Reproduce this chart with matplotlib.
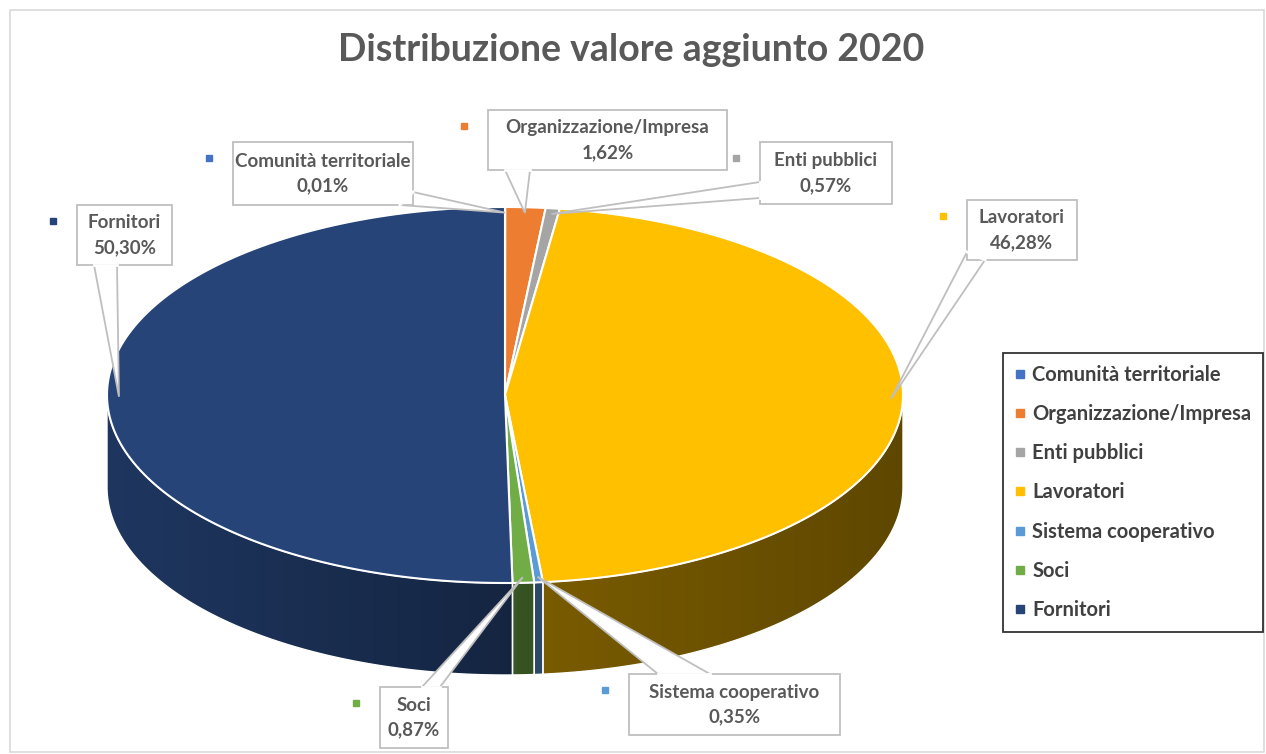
import numpy as np
import matplotlib
matplotlib.use("Agg")
import matplotlib.pyplot as plt
from matplotlib.patches import Polygon, Rectangle
from matplotlib.lines import Line2D

plt.rcParams['font.family'] = ['Lato', 'DejaVu Sans']

# data
categories = ["Comunità territoriale", "Organizzazione/Impresa", "Enti pubblici",
              "Lavoratori", "Sistema cooperativo", "Soci", "Fornitori"]
shares = [0.01, 1.62, 0.57, 46.28, 0.35, 0.87, 50.30]
value_labels = ["0,01%", "1,62%", "0,57%", "46,28%", "0,35%", "0,87%", "50,30%"]

# styles
colors = ["#4472C4", "#ED7D31", "#A5A5A5", "#FFC000", "#5B9BD5", "#70AD47", "#264478"]
text_col = "#595959"

# pie geometry in pixel units (y grows downwards)
cx, cy, rx, ry, depth = 505, 395, 398, 188, 92

# callout layout: box (x0, y0, x1, y1), pointer base points
callouts = {
    "Comunità territoriale": ((233, 142, 413, 205), [(400, 205), (413, 192)]),
    "Organizzazione/Impresa": ((488, 110, 727, 170), [(505, 170), (530, 170)]),
    "Enti pubblici": ((760, 142, 892, 204), [(760, 182), (760, 198)]),
    "Lavoratori": ((967, 200, 1077, 260), [(967, 252), (985, 260)]),
    "Sistema cooperativo": ((629, 674, 840, 735), [(710, 674), (658, 674)]),
    "Soci": ((380, 687, 448, 748), [(440, 687), (422, 687)]),
    "Fornitori": ((77, 205, 172, 265), [(94, 265), (117, 265)]),
}


def pt(theta, r=1.0, dy=0.0):
    th = np.radians(theta)
    return cx + r * rx * np.sin(th), cy - r * ry * np.cos(th) + dy


fig = plt.figure(figsize=(12.66, 7.54), dpi=100)
ax = fig.add_axes([0, 0, 1, 1])
ax.set_xlim(0, 1266)
ax.set_ylim(754, 0)
ax.axis("off")

ax.add_patch(Rectangle((10, 10), 1254, 742, facecolor="white", edgecolor="#D9D9D9", lw=1.2, zorder=0))

ax.text(631, 50, "Distribuzione valore aggiunto 2020", ha="center", va="center",
        fontsize=27, fontweight="bold", color=text_col)

bounds = np.concatenate([[0], np.cumsum(shares)]) / sum(shares) * 360

# side walls (front half only) with horizontal shading
gx = np.linspace(cx - rx, cx + rx, 400)
shade = np.interp((gx - gx[0]) / (gx[-1] - gx[0]), [0, 0.5, 0.52, 1], [0.8, 0.55, 0.48, 0.37])
for i, c in enumerate(colors):
    lo, hi = max(bounds[i], 90), min(bounds[i + 1], 270)
    if hi <= lo:
        continue
    th = np.linspace(lo, hi, 200)
    xs, ys = pt(th)
    verts = list(zip(xs, ys)) + list(zip(xs[::-1], ys[::-1] + depth))
    poly = Polygon(verts, closed=True, facecolor="none", edgecolor="white", lw=1.0, zorder=3)
    ax.add_patch(poly)
    rgb = np.array(matplotlib.colors.to_rgb(c))
    img = (shade[:, None] * rgb[None, :])[None, :, :]
    im = ax.imshow(img, extent=(cx - rx, cx + rx, cy + ry + depth + 2, cy - 2),
                   aspect="auto", zorder=2, interpolation="bilinear")
    im.set_clip_path(poly)

# top face
for i, c in enumerate(colors):
    th = np.linspace(bounds[i], bounds[i + 1], max(int((bounds[i + 1] - bounds[i]) * 2), 2))
    xs, ys = pt(th)
    verts = [(cx, cy)] + list(zip(xs, ys))
    ax.add_patch(Polygon(verts, closed=True, facecolor=c, edgecolor="white", lw=1.5, zorder=4))

ax.set_xlim(0, 1266)
ax.set_ylim(754, 0)

# callouts
for i, name in enumerate(categories):
    (x0, y0, x1, y1), base = callouts[name]
    mid = (bounds[i] + bounds[i + 1]) / 2
    tip = pt(mid, 0.97)
    # pointer
    ax.add_patch(Polygon([base[0], tip, base[1]], closed=True, facecolor="white",
                         edgecolor="#BFBFBF", lw=1.3, zorder=6))
    ax.add_patch(Rectangle((x0, y0), x1 - x0, y1 - y0, facecolor="white",
                           edgecolor="#BFBFBF", lw=1.3, zorder=7))
    # hide border where the pointer joins the box
    ax.plot([base[0][0], base[1][0]], [base[0][1], base[1][1]], color="white", lw=2, zorder=8)
    ax.text((x0 + x1) / 2, (y0 + y1) / 2, f"{name}\n{value_labels[i]}", ha="center", va="center",
            fontsize=13.5, fontweight="bold", color=text_col, linespacing=1.55, zorder=9)
    ax.plot(x0 - 24, y0 + 16, marker="s", markersize=5, color=colors[i], zorder=9)

handles = [Line2D([], [], ls="none", marker="s", markersize=6, color=c) for c in colors]
leg = fig.legend(handles, categories, loc="upper left", bbox_to_anchor=(1003 / 1266, 1 - 353 / 754),
                 borderaxespad=0, frameon=True, fancybox=False, edgecolor="black", handlelength=0.5,
                 handletextpad=0.35, labelspacing=0.95, borderpad=0.6,
                 prop={"weight": "bold", "size": 14.5})
leg.get_frame().set_linewidth(1.3)
for t in leg.get_texts():
    t.set_color("#404040")

fig.savefig("out.png", dpi=100)
